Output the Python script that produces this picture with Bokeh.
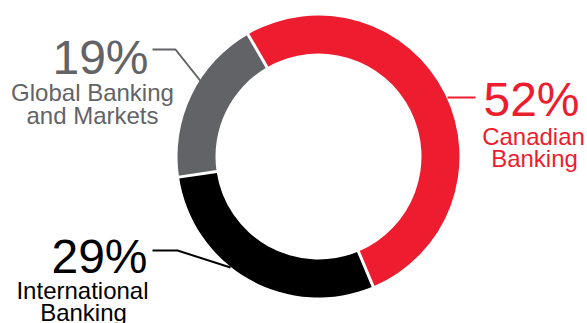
import numpy as np
from bokeh.plotting import figure
from bokeh.models import Range1d
from bokeh.core.properties import value
from bokeh.embed import file_html
from bokeh.resources import INLINE

# ---- data ----
segments = ["Canadian Banking", "International Banking", "Global Banking and Markets"]
shares = [52, 29, 19]
pct_labels = ["52%", "29%", "19%"]
name_lines = [["Canadian", "Banking"], ["International", "Banking"], ["Global Banking", "and Markets"]]
colors = ["#ED1C2E", "#000000", "#626366"]

W, H = 587, 323
p = figure(width=W, height=H, output_backend="svg", toolbar_location=None,
           x_range=Range1d(0, W), y_range=Range1d(0, H), min_border=0)
p.axis.visible = False
p.grid.visible = False
p.outline_line_color = None
p.background_fill_color = "white"
p.border_fill_color = "white"

def Y(y):
    return H - y

cx, cy = 318, Y(156)
r_out, r_in = 141, 103
start0 = np.deg2rad(120)
fr = np.array(shares) / sum(shares) * 2 * np.pi
ends = start0 - np.cumsum(fr)
starts = np.concatenate([[start0], ends[:-1]])

p.annular_wedge(x=[cx] * 3, y=[cy] * 3, inner_radius=r_in, outer_radius=r_out,
                start_angle=list(starts), end_angle=list(ends), direction="clock",
                fill_color=colors, line_color=None)

# white separators at segment boundaries
b = starts
p.segment(x0=list(cx + (r_in - 2) * np.cos(b)), y0=list(cy + (r_in - 2) * np.sin(b)),
          x1=list(cx + (r_out + 2) * np.cos(b)), y1=list(cy + (r_out + 2) * np.sin(b)),
          line_color="white", line_width=3)

# leader lines
p.line([447, 475], [Y(97), Y(97)], line_color=colors[0], line_width=2)
p.line([152, 177, 230], [Y(250), Y(250), Y(267)], line_color=colors[1], line_width=2)
p.line([152, 175, 202], [Y(49), Y(49), Y(83)], line_color=colors[2], line_width=2)

font = value("Liberation Sans")
# percent labels (baseline positions, compensated for renderer offset)
pct_pos = [(531, 115), (99, 272), (100, 73)]
for lab, (x, y), c in zip(pct_labels, pct_pos, colors):
    p.text(x=[x], y=[Y(y - 16)], text=[lab], text_color=c, text_font=font,
           text_font_size=value("48px"), text_align="center", text_baseline="alphabetic")

name_pos = [[(533, 144), (534, 166)], [(82, 298), (83, 320)], [(92, 100), (92, 123)]]
for lines, poss, c in zip(name_lines, name_pos, colors):
    for t, (x, y) in zip(lines, poss):
        p.text(x=[x], y=[Y(y - 8)], text=[t], text_color=c, text_font=font,
               text_font_size=value("24px"), text_align="center", text_baseline="alphabetic")

open("out.html", "w").write(file_html(p, INLINE))
